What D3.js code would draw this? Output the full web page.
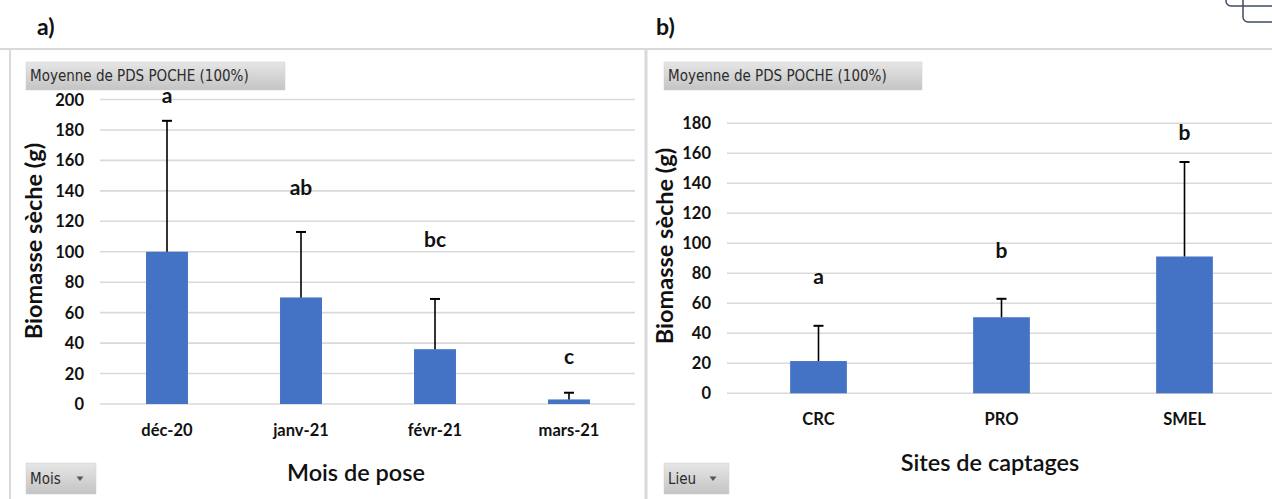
<!DOCTYPE html>
<html>
<head>
<meta charset="utf-8">
<script src="https://cdn.jsdelivr.net/npm/d3@7"></script>
<style>
  html, body { margin: 0; padding: 0; background: #ffffff; }
  svg { display: block; }
</style>
</head>
<body>
<svg id="chart" width="1272" height="499"></svg>
<script>
// ---------- DATA ----------
const monthCategories = ["déc-20", "janv-21", "févr-21", "mars-21"];
const monthMeans      = [100, 70, 36, 3];
const monthErrors     = [86, 43, 33, 4.4];          // upper error (added to mean)
const monthLetters    = ["a", "ab", "bc", "c"];
const monthLetterAt   = [202, 142, 108, 31];        // letter anchor, in data units
const monthTicks      = [0, 20, 40, 60, 80, 100, 120, 140, 160, 180, 200];

const siteCategories  = ["CRC", "PRO", "SMEL"];
const siteMeans       = [21.5, 50.7, 91.2];
const siteErrors      = [23.5, 12.3, 63];
const siteLetters     = ["a", "b", "b"];
const siteLetterAt    = [77.5, 95, 173.5];
const siteTicks       = [0, 20, 40, 60, 80, 100, 120, 140, 160, 180];

const yTitle = "Biomasse sèche (g)";
const fieldButton = "Moyenne de PDS POCHE (100%)";

// ---------- STYLE ----------
const FONT = "Lato, 'Open Sans', 'DejaVu Sans', sans-serif";
const BAR = "#4472c4";
const GRID = "#d9d9d9";

const svg = d3.select("#chart");

// gradient for field buttons
const defs = svg.append("defs");
const grad = defs.append("linearGradient").attr("id", "btn").attr("x1", 0).attr("y1", 0).attr("x2", 0).attr("y2", 1);
grad.append("stop").attr("offset", "0%").attr("stop-color", "#e6e6e6");
grad.append("stop").attr("offset", "100%").attr("stop-color", "#c4c4c4");

// panel borders
svg.append("line").attr("x1", 0).attr("x2", 1272).attr("y1", 49).attr("y2", 49)
  .attr("stroke", GRID).attr("stroke-width", 2);
svg.append("line").attr("x1", 10).attr("x2", 10).attr("y1", 49).attr("y2", 499)
  .attr("stroke", GRID).attr("stroke-width", 2);
svg.append("line").attr("x1", 646).attr("x2", 646).attr("y1", 49).attr("y2", 499)
  .attr("stroke", GRID).attr("stroke-width", 3);

// top-right icon fragment
svg.append("rect").attr("x", 1226).attr("y", -20).attr("width", 70).attr("height", 26).attr("rx", 5)
  .attr("fill", "none").attr("stroke", "#3e4c60").attr("stroke-width", 1.5);
svg.append("rect").attr("x", 1243).attr("y", -10).attr("width", 50).attr("height", 32).attr("rx", 5)
  .attr("fill", "none").attr("stroke", "#3e4c60").attr("stroke-width", 1.5);

function button(x, y, w, h, label, arrow) {
  const g = svg.append("g");
  g.append("rect").attr("x", x).attr("y", y).attr("width", w).attr("height", h)
    .attr("fill", "url(#btn)").attr("stroke", "#d0d0d0").attr("stroke-width", 0.5);
  g.append("text").attr("x", x + 4).attr("y", y + h / 2 + 5)
    .attr("font-family", "'Liberation Sans Narrow', 'DejaVu Sans Condensed', sans-serif")
    .attr("font-size", 15).attr("fill", "#2b2b2b").text(label);
  if (arrow) {
    const ax = x + w - 16, ay = y + h / 2;
    g.append("path").attr("d", `M${ax - 3.5},${ay - 2} L${ax + 3.5},${ay - 2} L${ax},${ay + 2.5} Z`).attr("fill", "#555");
  }
}

function panel(opt) {
  const x = d3.scaleBand().domain(opt.cats).range(opt.xr).padding(0);
  const y = d3.scaleLinear().domain([0, opt.ymax]).range(opt.yr);
  const bw = x.bandwidth() * opt.barFrac;

  // gridlines
  svg.append("g").selectAll("line").data(opt.ticks).join("line")
    .attr("x1", opt.xr[0]).attr("x2", opt.gridEnd)
    .attr("y1", d => y(d)).attr("y2", d => y(d))
    .attr("stroke", GRID).attr("stroke-width", 1.6);

  // y tick labels
  svg.append("g").selectAll("text").data(opt.ticks).join("text")
    .attr("x", opt.xr[0] - 16).attr("y", d => y(d) + 6)
    .attr("text-anchor", "end").attr("font-family", FONT).attr("font-weight", 700)
    .attr("font-size", 16.5).attr("fill", "#111").text(d => d);

  // bars
  svg.append("g").selectAll("rect").data(opt.cats).join("rect")
    .attr("x", d => x(d) + (x.bandwidth() - bw) / 2)
    .attr("width", bw)
    .attr("y", (d, i) => y(opt.means[i]))
    .attr("height", (d, i) => y(0) - y(opt.means[i]))
    .attr("fill", BAR);

  // error bars
  const eg = svg.append("g").attr("stroke", "#000").attr("stroke-width", 1.6);
  opt.cats.forEach((c, i) => {
    const cx = x(c) + x.bandwidth() / 2;
    const top = y(opt.means[i] + opt.errs[i]);
    eg.append("line").attr("x1", cx).attr("x2", cx).attr("y1", y(opt.means[i])).attr("y2", top);
    eg.append("line").attr("x1", cx - opt.cap).attr("x2", cx + opt.cap).attr("y1", top).attr("y2", top).attr("stroke-width", 2);
  });

  // significance letters
  svg.append("g").selectAll("text").data(opt.cats).join("text")
    .attr("x", d => x(d) + x.bandwidth() / 2)
    .attr("y", (d, i) => y(opt.letterAt[i]) + 7)
    .attr("text-anchor", "middle").attr("font-family", FONT).attr("font-weight", 700)
    .attr("font-size", 21).attr("fill", "#111").text((d, i) => opt.letters[i]);

  // x tick labels
  svg.append("g").selectAll("text").data(opt.cats).join("text")
    .attr("x", d => x(d) + x.bandwidth() / 2)
    .attr("y", y(0) + 32)
    .attr("text-anchor", "middle").attr("font-family", FONT).attr("font-weight", 700)
    .attr("font-size", 16.5).attr("fill", "#111").text(d => d);

  // y title
  svg.append("text")
    .attr("transform", `translate(${opt.yTitleX},${opt.yTitleY}) rotate(-90)`)
    .attr("text-anchor", "middle").attr("font-family", FONT).attr("font-weight", 700)
    .attr("font-size", 23.5).attr("fill", "#111").text(yTitle);

  // x title
  svg.append("text").attr("x", opt.xTitleX).attr("y", opt.xTitleY)
    .attr("text-anchor", "middle").attr("font-family", FONT).attr("font-weight", 600)
    .attr("font-size", 23.5).attr("fill", "#111").text(opt.xTitle);

  // panel label
  svg.append("text").attr("x", opt.labelX).attr("y", 35)
    .attr("font-family", FONT).attr("font-weight", 700)
    .attr("font-size", 23).attr("fill", "#111").text(opt.label);
}

panel({
  cats: monthCategories, means: monthMeans, errs: monthErrors,
  letters: monthLetters, letterAt: monthLetterAt, ticks: monthTicks,
  ymax: 200, xr: [100, 636], yr: [404, 99.5], gridEnd: 635, barFrac: 0.313, cap: 5,
  yTitleX: 42, yTitleY: 241, xTitle: "Mois de pose", xTitleX: 356, xTitleY: 481,
  label: "a)", labelX: 37
});

panel({
  cats: siteCategories, means: siteMeans, errs: siteErrors,
  letters: siteLetters, letterAt: siteLetterAt, ticks: siteTicks,
  ymax: 180, xr: [727, 1276], yr: [393.3, 123.3], gridEnd: 1276, barFrac: 0.31, cap: 5,
  yTitleX: 673, yTitleY: 246, xTitle: "Sites de captages", xTitleX: 990, xTitleY: 471,
  label: "b)", labelX: 656
});

button(26, 62, 259, 28, fieldButton, false);
button(664, 62, 258, 28, fieldButton, false);
button(26, 463, 70, 31, "Mois", true);
button(664, 463, 65, 31, "Lieu", true);
</script>
</body>
</html>
